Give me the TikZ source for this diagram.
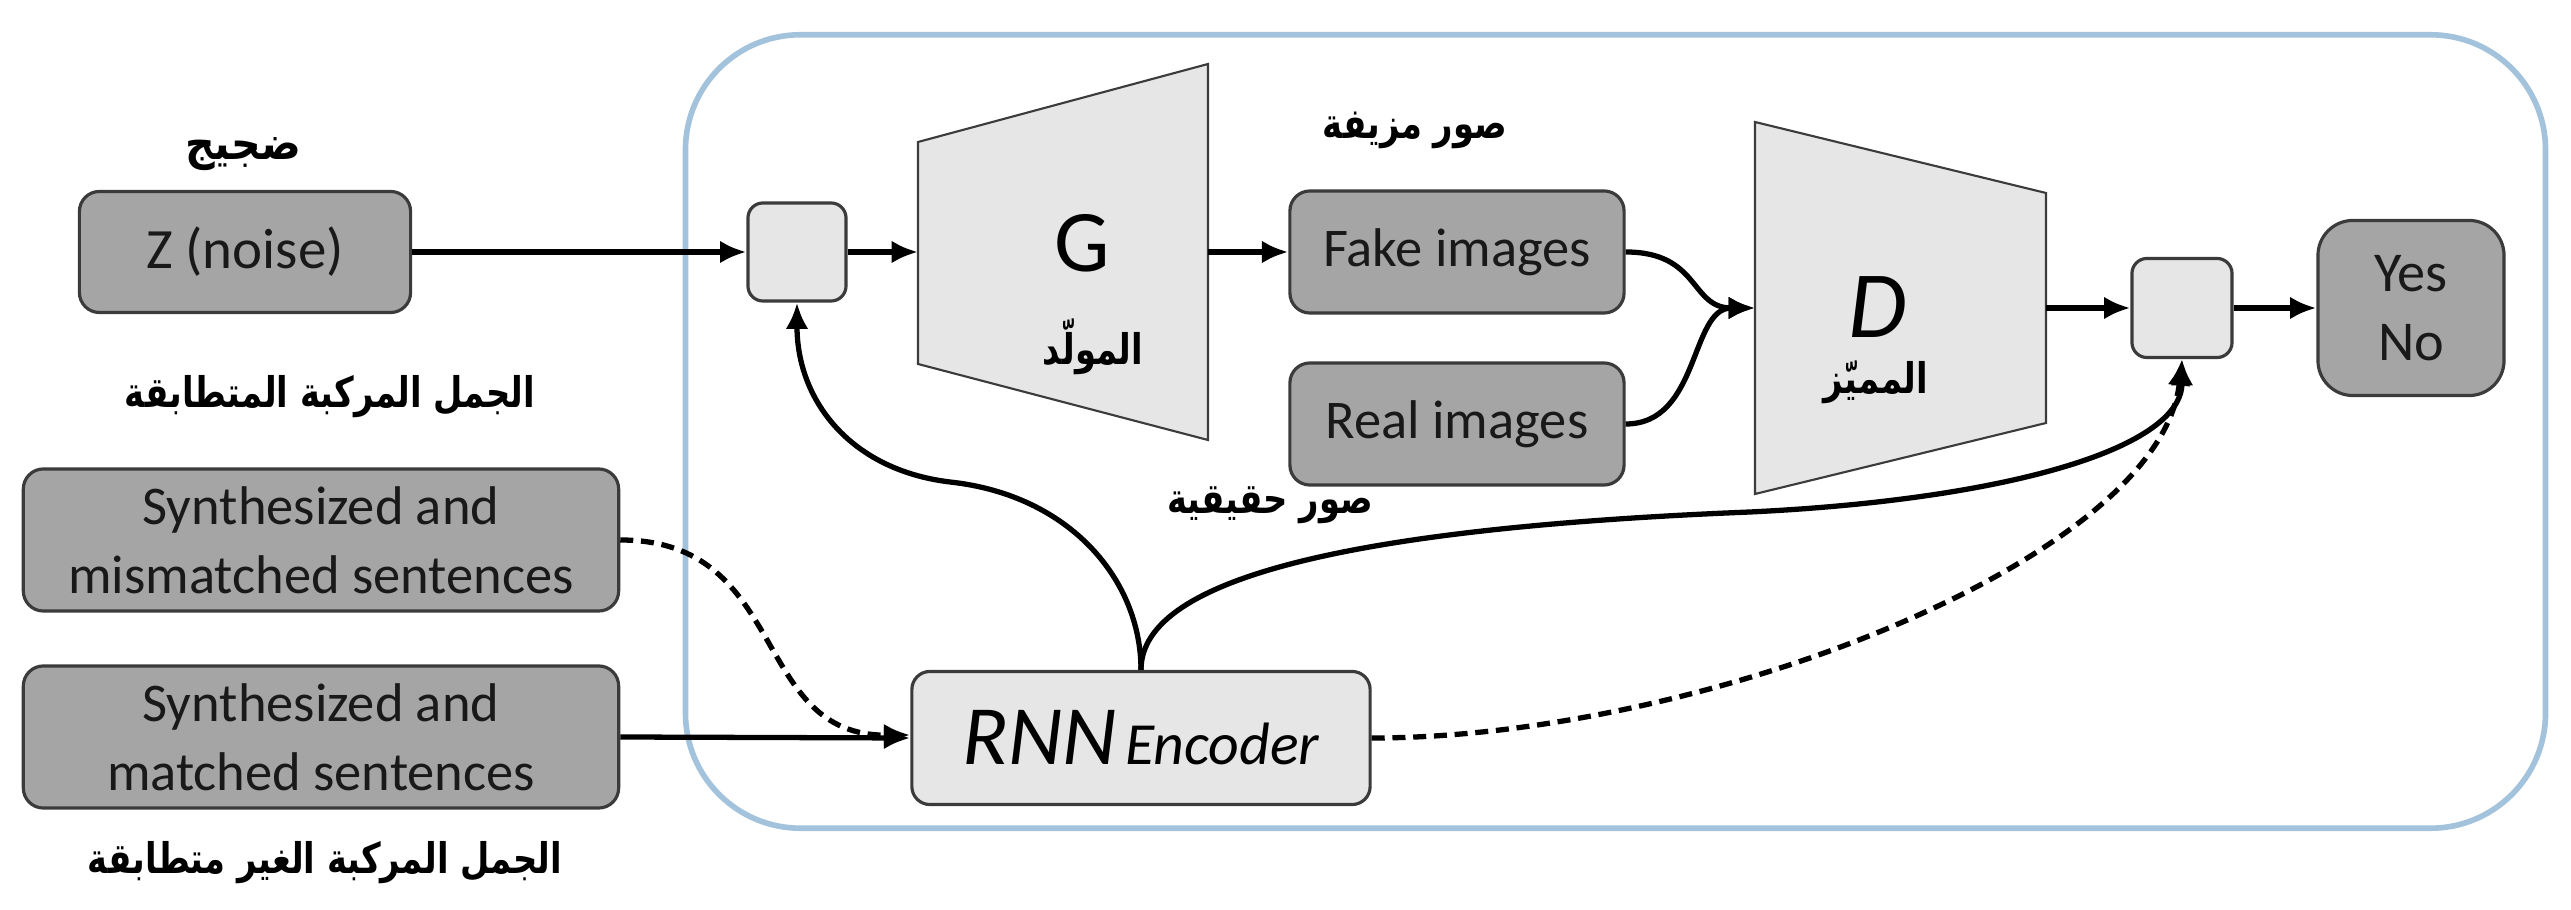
\documentclass[tikz,border=0pt]{standalone}
\usepackage{fontspec}
\setmainfont{Carlito}
\newfontfamily\arabicfont[Script=Arabic, FakeStretch=0.8]{DejaVu Sans}
\newfontfamily\arabicwide[Script=Arabic, FakeStretch=0.9]{DejaVu Sans}
\TeXXeTstate=1
\usetikzlibrary{arrows.meta}
\definecolor{cDark}{HTML}{A5A5A5}
\definecolor{cLight}{HTML}{E7E6E6}
\definecolor{cEdge}{HTML}{3B3B3B}
\definecolor{cFrame}{HTML}{A3C3DC}
\begin{document}
\begin{tikzpicture}[x=0.01cm,y=-0.01cm,
  darkbox/.style={draw=cEdge, line width=0.9pt, fill=cDark, rounded corners=0.2cm, inner sep=0pt, align=center, text=black!90, font=\fontsize{15.5}{19.5}\selectfont},
  lightbox/.style={draw=cEdge, line width=0.9pt, fill=cLight, rounded corners=0.15cm, inner sep=0pt, align=center},
  trap/.style={draw=cEdge, line width=0.6pt, fill=cLight},
  arlabel/.style={inner sep=0pt, font=\arabicfont\bfseries\fontsize{12}{15}\selectfont},
  conn/.style={line width=1.5pt, -{Latex[length=7.5pt,width=6.5pt]}},
  dconn/.style={conn, dash pattern=on 3.7pt off 2.2pt},
]
\useasboundingbox[fill=white] (0,0) rectangle (2571,910);
% frame
\node[draw=cFrame, line width=1.6pt, rounded corners=1.15cm, minimum width=18.59cm, minimum height=7.93cm, inner sep=0pt] (frame) at (1615.5,431.5) {};
% trapezoids
\draw[trap] (918,142) -- (1208,64) -- (1208,440) -- (918,364) -- cycle;
\draw[trap] (1755,122) -- (2046,193) -- (2046,423) -- (1755,494) -- cycle;
\coordinate (Gl) at (918,252);
\coordinate (Gr) at (1208,252);
\coordinate (Dl) at (1755,308);
\coordinate (Dr) at (2046,308);
\node[inner sep=0pt, font=\fontsize{25}{28}\selectfont] (Gt) at (1082,243) {G};
\node[inner sep=0pt, font=\fontsize{27}{30}\selectfont\itshape] (Dt) at (1878,307) {D};
\node[arlabel] (Gar) at (1093,347) {\beginR المولّد\endR};
\node[arlabel] (Dar) at (1876,382) {\beginR المميّز\endR};
% boxes
\node[darkbox, minimum width=3.31cm, minimum height=1.21cm, font=\fontsize{16.2}{20}\selectfont] (Z) at (245,252) {Z (noise)};
\node[darkbox, minimum width=5.95cm, minimum height=1.42cm] (mis) at (321,540) {Synthesized and\\mismatched sentences};
\node[darkbox, minimum width=5.95cm, minimum height=1.42cm] (mat) at (321,737) {Synthesized and\\matched sentences};
\node[darkbox, minimum width=3.34cm, minimum height=1.22cm] (fake) at (1457,252) {Fake images};
\node[darkbox, minimum width=3.34cm, minimum height=1.22cm] (real) at (1457,424) {Real images};
\node[darkbox, rounded corners=0.35cm, minimum width=1.86cm, minimum height=1.75cm, font=\fontsize{16}{19.5}\selectfont] (yn) at (2411,308) {Yes\\No};
\node[lightbox, minimum width=0.98cm, minimum height=0.98cm] (b1) at (797,252) {};
\node[lightbox, minimum width=1.0cm, minimum height=0.99cm] (b2) at (2182,308) {};
\node[lightbox, rounded corners=0.18cm, minimum width=4.58cm, minimum height=1.33cm] (rnn) at (1141,738) {{\fontsize{24}{28}\selectfont\itshape RNN} {\fontsize{17}{20}\selectfont\itshape Encoder}};
% arabic labels
\node[inner sep=0pt, font=\arabicwide\bfseries\fontsize{13}{15}\selectfont] (noiseAr) at (243,154) {\beginR ضجيج\endR};
\node[arlabel] (matAr) at (330,397) {\beginR الجمل المركبة المتطابقة\endR};
\node[arlabel] (misAr) at (325,863) {\beginR الجمل المركبة الغير متطابقة\endR};
\node[arlabel] (fakeAr) at (1415,130) {\beginR صور مزيفة\endR};
\node[arlabel] (realAr) at (1270,505) {\beginR صور حقيقية\endR};
% connectors
\draw[conn] (Z.east) -- (b1.west);
\draw[conn] (b1.east) -- (Gl);
\draw[conn] (Gr) -- (fake.west);
\draw[conn] (fake.east) .. controls (1700,252) and (1690,308) .. (Dl);
\draw[conn] (real.east) .. controls (1700,424) and (1690,308) .. (Dl);
\draw[conn] (Dr) -- (b2.west);
\draw[conn] (b2.east) -- (yn.west);
\draw[conn] (mat.east) -- (rnn.west);
\draw[dconn] (mis.east) .. controls (790,540) and (750,736) .. ([yshift=0.03cm]rnn.west);
\draw[line width=1.5pt] (rnn.north) .. controls (1141,580) and (1070,495) .. (950,482) coordinate (bend);
\draw[conn] (bend) .. controls (850,470) and (797,400) .. (b1.south);
\draw[line width=1.5pt] (rnn.north) .. controls (1141,590) and (1300,530) .. (1750,512) coordinate (mid);
\draw[conn] (mid) .. controls (2000,500) and (2182,450) .. (b2.south);
\draw[dconn] (rnn.east) .. controls (1700,738) and (2160,560) .. (b2.south);
\end{tikzpicture}
\end{document}
